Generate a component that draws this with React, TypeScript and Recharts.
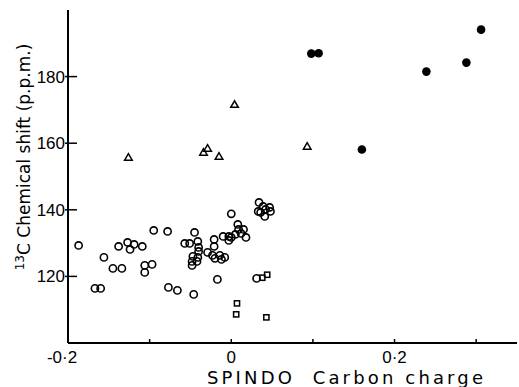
import { ScatterChart, Scatter, XAxis, YAxis } from "recharts";

// SPINDO carbon charge vs 13C chemical shift
const openCircles = [
  { x: -0.187, y: 129.3 }, { x: -0.167, y: 116.4 }, { x: -0.16, y: 116.4 },
  { x: -0.156, y: 125.7 }, { x: -0.145, y: 122.4 }, { x: -0.138, y: 129 },
  { x: -0.134, y: 122.4 }, { x: -0.127, y: 130.2 }, { x: -0.124, y: 128.1 },
  { x: -0.119, y: 129.6 }, { x: -0.109, y: 129 }, { x: -0.106, y: 123.3 },
  { x: -0.106, y: 121.2 }, { x: -0.097, y: 123.6 }, { x: -0.095, y: 133.8 },
  { x: -0.078, y: 133.5 }, { x: -0.077, y: 116.7 }, { x: -0.066, y: 115.8 },
  { x: -0.046, y: 114.6 }, { x: -0.045, y: 133.2 },
  { x: -0.057, y: 129.9 }, { x: -0.051, y: 129.9 }, { x: -0.041, y: 130.5 },
  { x: -0.04, y: 128.7 }, { x: -0.04, y: 127.5 }, { x: -0.047, y: 126 },
  { x: -0.041, y: 125.7 }, { x: -0.048, y: 124.5 }, { x: -0.048, y: 123.3 },
  { x: -0.042, y: 124.5 },
  { x: -0.021, y: 131.1 }, { x: -0.021, y: 129 }, { x: -0.029, y: 127.2 },
  { x: -0.023, y: 126.3 }, { x: -0.02, y: 125.4 }, { x: -0.014, y: 126.3 },
  { x: -0.012, y: 125.1 }, { x: -0.008, y: 125.7 }, { x: -0.017, y: 119.1 },
  { x: -0.01, y: 132 }, { x: -0.003, y: 132 }, { x: -0.003, y: 130.8 },
  { x: 0.0, y: 131.7 }, { x: 0.0, y: 138.8 }, { x: 0.008, y: 135.6 },
  { x: 0.009, y: 134.1 }, { x: 0.015, y: 134.1 }, { x: 0.005, y: 132.6 },
  { x: 0.012, y: 132.9 }, { x: 0.018, y: 131.7 }, { x: 0.031, y: 119.4 },
  { x: 0.034, y: 142.2 }, { x: 0.039, y: 141 }, { x: 0.033, y: 139.5 },
  { x: 0.042, y: 140.1 }, { x: 0.047, y: 140.7 }, { x: 0.048, y: 139.5 },
  { x: 0.041, y: 138 }, { x: 0.036, y: 139.2 },
];

const filledCircles = [
  { x: 0.098, y: 186.9 }, { x: 0.107, y: 187 }, { x: 0.16, y: 158.1 },
  { x: 0.239, y: 181.5 }, { x: 0.288, y: 184.2 }, { x: 0.306, y: 194.1 },
];

const triangles = [
  { x: -0.126, y: 155.7 }, { x: -0.034, y: 157.2 }, { x: -0.029, y: 158.4 },
  { x: -0.015, y: 156 }, { x: 0.004, y: 171.6 }, { x: 0.093, y: 159 },
];

const squares = [
  { x: 0.007, y: 111.9 }, { x: 0.006, y: 108.6 }, { x: 0.038, y: 119.6 },
  { x: 0.044, y: 120.5 }, { x: 0.043, y: 107.7 },
];

const xTicks = [-0.2, -0.1, 0, 0.1, 0.2, 0.3];
const xTickLabels: Record<string, string> = { "-0.2": "-0·2", "0": "0", "0.2": "0·2" };
const yTicks = [120, 140, 160, 180];

const tickFont = "'Liberation Sans', Arial, sans-serif";
const labelFont = "'DejaVu Sans', sans-serif";

const OpenCircle = ({ cx, cy }: any) => (
  <circle cx={cx} cy={cy} r={3.6} fill="none" stroke="#000" strokeWidth={1.6} />
);
const FilledCircle = ({ cx, cy }: any) => <circle cx={cx} cy={cy} r={4.3} fill="#000" />;
const Triangle = ({ cx, cy }: any) => (
  <polygon
    points={`${cx},${cy - 3.8} ${cx - 3.8},${cy + 2.7} ${cx + 3.8},${cy + 2.7}`}
    fill="none"
    stroke="#000"
    strokeWidth={1.5}
  />
);
const Square = ({ cx, cy }: any) => (
  <rect x={cx - 2.6} y={cy - 2.6} width={5.2} height={5.2} fill="none" stroke="#000" strokeWidth={1.5} />
);

const XTick = ({ x, y, payload }: any) => {
  const label = xTickLabels[String(payload.value)];
  return (
    <g>
      {payload.value !== -0.2 && <line x1={x} y1={y} x2={x} y2={y - 4} stroke="#000" strokeWidth={1.5} />}
      {label && (
        <text x={label.startsWith("-") ? x - 6 : x} y={y + 20} textAnchor="middle" fontSize={17} fontFamily={tickFont} fill="#000">
          {label}
        </text>
      )}
    </g>
  );
};

const YTick = ({ x, y, payload }: any) => (
  <g>
    <line x1={x - 3} y1={y} x2={x + 9} y2={y} stroke="#000" strokeWidth={1.5} />
    <text x={x - 3} y={y + 6} textAnchor="end" fontSize={17} fontFamily={tickFont} fill="#000">
      {payload.value}
    </text>
  </g>
);

const YLabel = () => (
  <text transform="translate(30,157) rotate(-90)" textAnchor="middle" fontSize={17} fontFamily={labelFont} fill="#000">
    <tspan fontSize={12} dy={-6}>13</tspan>
    <tspan dy={6}>C Chemical shift (p.p.m.)</tspan>
  </text>
);

const XLabel = () => (
  <text x={345} y={384} textAnchor="middle" fontSize={18} fontFamily={labelFont} fill="#000" textLength={276} lengthAdjust="spacing">
    SPINDO{"\u00a0\u00a0"}Carbon charge
  </text>
);

export default function App() {
  return (
    <div style={{ position: "absolute", left: 0, top: 0, background: "#fff" }}>
      <ScatterChart width={519} height={387} margin={{ top: 10, right: 2, bottom: 0, left: 0 }}>
        <XAxis
          type="number"
          dataKey="x"
          domain={[-0.2, 0.35]}
          ticks={xTicks}
          allowDataOverflow
          height={44}
          tickSize={0}
          tickMargin={0}
          tickLine={false}
          axisLine={{ stroke: "#000", strokeWidth: 2 }}
          tick={<XTick />}
          label={<XLabel />}
        />
        <YAxis
          type="number"
          dataKey="y"
          domain={[100, 200]}
          ticks={yTicks}
          allowDataOverflow
          width={68}
          tickSize={0}
          tickMargin={0}
          tickLine={false}
          axisLine={{ stroke: "#000", strokeWidth: 2 }}
          tick={<YTick />}
          label={<YLabel />}
        />
        <Scatter data={openCircles} shape={<OpenCircle />} isAnimationActive={false} />
        <Scatter data={filledCircles} shape={<FilledCircle />} isAnimationActive={false} />
        <Scatter data={triangles} shape={<Triangle />} isAnimationActive={false} />
        <Scatter data={squares} shape={<Square />} isAnimationActive={false} />
      </ScatterChart>
    </div>
  );
}
